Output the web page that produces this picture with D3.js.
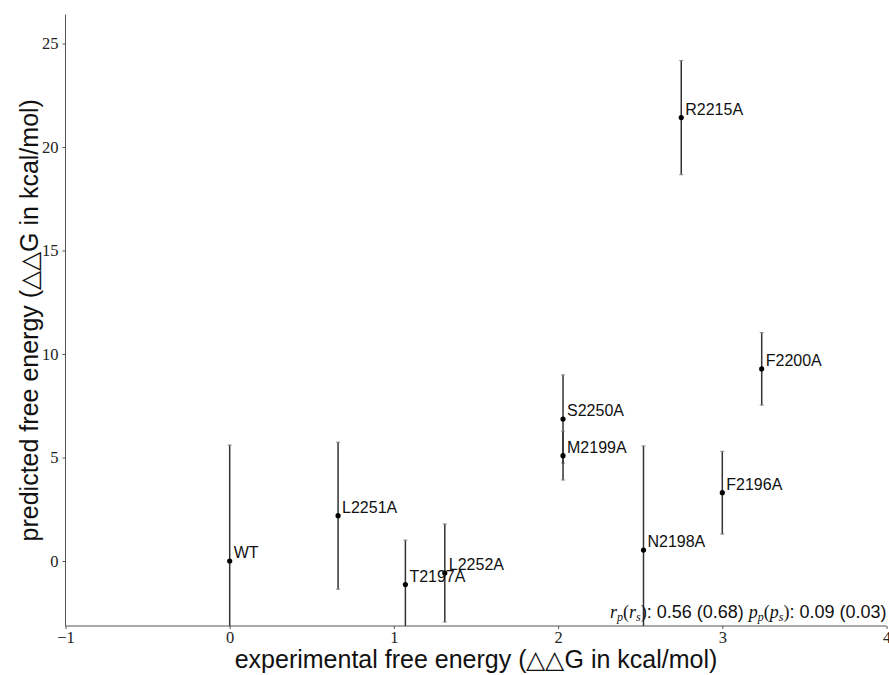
<!DOCTYPE html>
<html>
<head>
<meta charset="utf-8">
<script src="https://cdn.jsdelivr.net/npm/d3@7"></script>
<style>
  body { margin: 0; background: #fff; }
  .tick text { font-family: "Liberation Serif", "DejaVu Serif", serif; font-size: 16.5px; fill: #222; }
  .lbl { font-family: "Liberation Sans", Arial, sans-serif; font-size: 16px; fill: #111; }
  .axtitle { font-family: "Liberation Sans", Arial, sans-serif; font-size: 25px; fill: #111; }
</style>
</head>
<body>
<div id="chart"></div>
<script>
// mutants, experimental vs predicted ddG
const names = ['WT', 'L2251A', 'T2197A', 'L2252A', 'S2250A', 'M2199A', 'N2198A', 'F2196A', 'R2215A', 'F2200A'];
const experimental = [0, 0.66, 1.07, 1.31, 2.03, 2.03, 2.52, 3.0, 2.75, 3.24];
const predicted = [0, 2.19, -1.14, -0.58, 6.86, 5.09, 0.53, 3.30, 21.42, 9.28];
const predError = [5.6, 3.55, 2.15, 2.37, 2.13, 1.18, 5.03, 2.0, 2.76, 1.75];
const xTicks = [-1, 0, 1, 2, 3, 4];
const yTicks = [0, 5, 10, 15, 20, 25];

const width = 889;
const height = 675;
const mLeft = 65.5, mRight = 886.5, mTop = 14.5, mBottom = 626;

const svg = d3.select('#chart').append('svg')
  .attr('width', width)
  .attr('height', height);

const x = d3.scaleLinear().domain([-1, 4]).range([mLeft, mRight]);
const y = d3.scaleLinear().domain([-3.14, 26.4]).range([mBottom, mTop]);

const points = names.map((n, i) => ({
  name: n, x: experimental[i], y: predicted[i], e: predError[i]
}));

svg.append('clipPath').attr('id', 'plotclip')
  .append('rect')
  .attr('x', mLeft).attr('y', mTop)
  .attr('width', mRight - mLeft).attr('height', mBottom - mTop);

// axes
const xAxis = d3.axisBottom(x).tickValues(xTicks).tickSize(3).tickPadding(2)
  .tickFormat(d => d < 0 ? '\u2212' + Math.abs(d) : d);
const gx = svg.append('g').attr('transform', `translate(0,${mBottom})`).call(xAxis);
const yAxis = d3.axisLeft(y).tickValues(yTicks).tickSize(3).tickPadding(4);
const gy = svg.append('g').attr('transform', `translate(${mLeft},0)`).call(yAxis);
[gx, gy].forEach(g => {
  g.select('.domain').attr('stroke', '#555').attr('stroke-width', 1);
  g.selectAll('.tick line').attr('stroke', '#555');
});
gy.select('.domain').attr('d', `M0,${mTop}V${mBottom}`);
gx.select('.domain').attr('d', `M${mLeft},0H${mRight}`);

// error bars
const plot = svg.append('g').attr('clip-path', 'url(#plotclip)');
const bars = plot.selectAll('.err').data(points).enter().append('g').attr('class', 'err');
bars.append('line')
  .attr('x1', d => x(d.x)).attr('x2', d => x(d.x))
  .attr('y1', d => y(d.y - d.e)).attr('y2', d => y(d.y + d.e))
  .attr('stroke', '#333').attr('stroke-width', 1.5);
bars.append('line')
  .attr('x1', d => x(d.x) - 2).attr('x2', d => x(d.x) + 2)
  .attr('y1', d => y(d.y + d.e)).attr('y2', d => y(d.y + d.e))
  .attr('stroke', '#888').attr('stroke-width', 1);
bars.append('line')
  .attr('x1', d => x(d.x) - 2).attr('x2', d => x(d.x) + 2)
  .attr('y1', d => y(d.y - d.e)).attr('y2', d => y(d.y - d.e))
  .attr('stroke', '#888').attr('stroke-width', 1);

// points
svg.selectAll('.pt').data(points).enter().append('circle')
  .attr('class', 'pt')
  .attr('cx', d => x(d.x)).attr('cy', d => y(d.y))
  .attr('r', 2.6).attr('fill', '#000');

svg.selectAll('.lbl').data(points).enter().append('text')
  .attr('class', 'lbl')
  .attr('x', d => x(d.x) + 4)
  .attr('y', d => y(d.y) - 3)
  .text(d => d.name);

// axis titles
svg.append('text').attr('class', 'axtitle')
  .attr('text-anchor', 'middle')
  .attr('x', (mLeft + mRight) / 2).attr('y', 668)
  .text('experimental free energy (\u25B3\u25B3G in kcal/mol)');

svg.append('text').attr('class', 'axtitle')
  .attr('text-anchor', 'middle')
  .attr('transform', `translate(38,${(mTop + mBottom) / 2}) rotate(-90)`)
  .text('predicted free energy (\u25B3\u25B3G in kcal/mol)');

// correlation annotation
const stat = svg.append('text')
  .attr('text-anchor', 'end')
  .attr('x', mRight).attr('y', 618)
  .attr('font-family', '"Liberation Sans", Arial, sans-serif')
  .attr('font-size', 18).attr('fill', '#111');
const serif = '"Liberation Serif", serif';
const mathPart = (base, sub) => {
  stat.append('tspan').attr('font-family', serif).attr('font-style', 'italic').text(base);
  stat.append('tspan').attr('font-family', serif).attr('font-style', 'italic')
    .attr('font-size', 12).attr('dy', 3).text(sub);
  stat.append('tspan').attr('font-family', serif).attr('dy', -3).text('(');
  stat.append('tspan').attr('font-family', serif).attr('font-style', 'italic').text(base);
  stat.append('tspan').attr('font-family', serif).attr('font-style', 'italic')
    .attr('font-size', 12).attr('dy', 3).text('s');
  stat.append('tspan').attr('font-family', serif).attr('dy', -3).text(')');
};
mathPart('r', 'p');
stat.append('tspan').text(': 0.56 (0.68) ');
mathPart('p', 'p');
stat.append('tspan').text(': 0.09 (0.03)');
</script>
</body>
</html>
